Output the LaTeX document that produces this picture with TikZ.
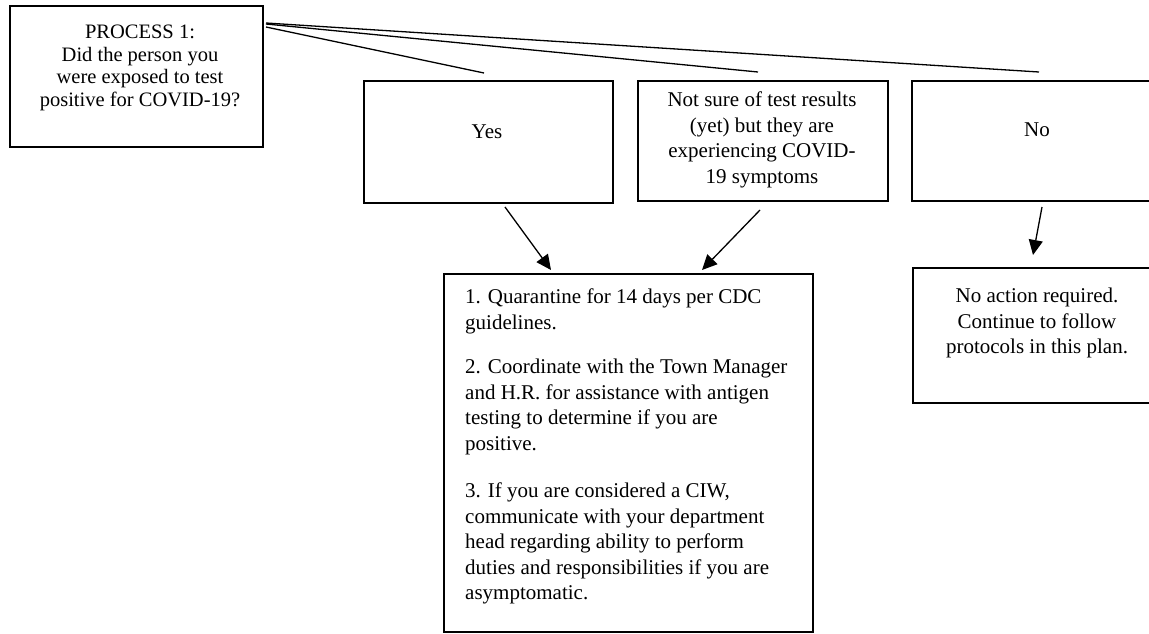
\documentclass[tikz,border=0pt]{standalone}
\usepackage{fontspec}
\setmainfont{Liberation Serif}
\usetikzlibrary{arrows.meta,calc}
\begin{document}
\begin{tikzpicture}[x=1pt,y=-1pt,
  box/.style={draw=black,line width=2pt,rectangle,inner sep=0pt,anchor=north west},
  txt/.style={inner sep=0pt,align=center,font=\fontsize{21}{25.5}\selectfont},
  link/.style={draw=black,line width=1.3pt},
  arr/.style={draw=black,line width=1.3pt,-{Triangle[length=15pt,width=14pt]}}]
\clip (0,0) rectangle (1149,633);
\fill[white] (0,0) rectangle (1149,633);
% boxes
\node[box,minimum width=253pt,minimum height=141pt] (proc) at (9,5) {};
\node[box,minimum width=249pt,minimum height=122pt] (yes) at (363,80) {};
\node[box,minimum width=250pt,minimum height=120pt] (unsure) at (637,80) {};
\node[box,minimum width=260pt,minimum height=120pt] (no) at (911,80) {};
\node[box,minimum width=369pt,minimum height=358pt] (act) at (443,273) {};
\node[box,minimum width=260pt,minimum height=135pt] (noact) at (912,267) {};
% texts
\node[txt,font=\fontsize{20.5}{22.5}\selectfont] (proct) at (140,68) {PROCESS 1:\\Did the person you\\were exposed to test\\positive for COVID-19?};
\node[txt] (yest) at (487,132) {Yes};
\node[txt] (unsuret) at (762,140) {Not sure of test results\\(yet) but they are\\experiencing COVID-\\19 symptoms};
\node[txt] (not) at (1037,130) {No};
\node[txt] (noactt) at (1037,323) {No action required.\\Continue to follow\\protocols in this plan.};
\node[txt,align=left,anchor=north west] (actt) at (465,289) {1. Quarantine for 14 days per CDC\\guidelines.\\[19pt]2. Coordinate with the Town Manager\\and H.R. for assistance with antigen\\testing to determine if you are\\positive.\\[22pt]3. If you are considered a CIW,\\communicate with your department\\head regarding ability to perform\\duties and responsibilities if you are\\asymptomatic.};
% branch lines
\coordinate (e1) at (484,73);
\coordinate (e2) at (758,72);
\coordinate (e3) at (1039,72);
\draw[link] ([shift={(2,22)}]proc.north east) -- (e1);
\draw[link] ([shift={(2,19)}]proc.north east) -- (e2);
\draw[link] ([shift={(2,18)}]proc.north east) -- (e3);
% arrows
\draw[arr] ([shift={(142,3)}]yes.south west) -- ([shift={(108,-3)}]act.north west);
\draw[arr] ([shift={(123,8)}]unsure.south west) -- ([shift={(259,-3)}]act.north west);
\draw[arr] ([shift={(131,5)}]no.south west) -- ([shift={(121,-12)}]noact.north west);
\end{tikzpicture}
\end{document}
